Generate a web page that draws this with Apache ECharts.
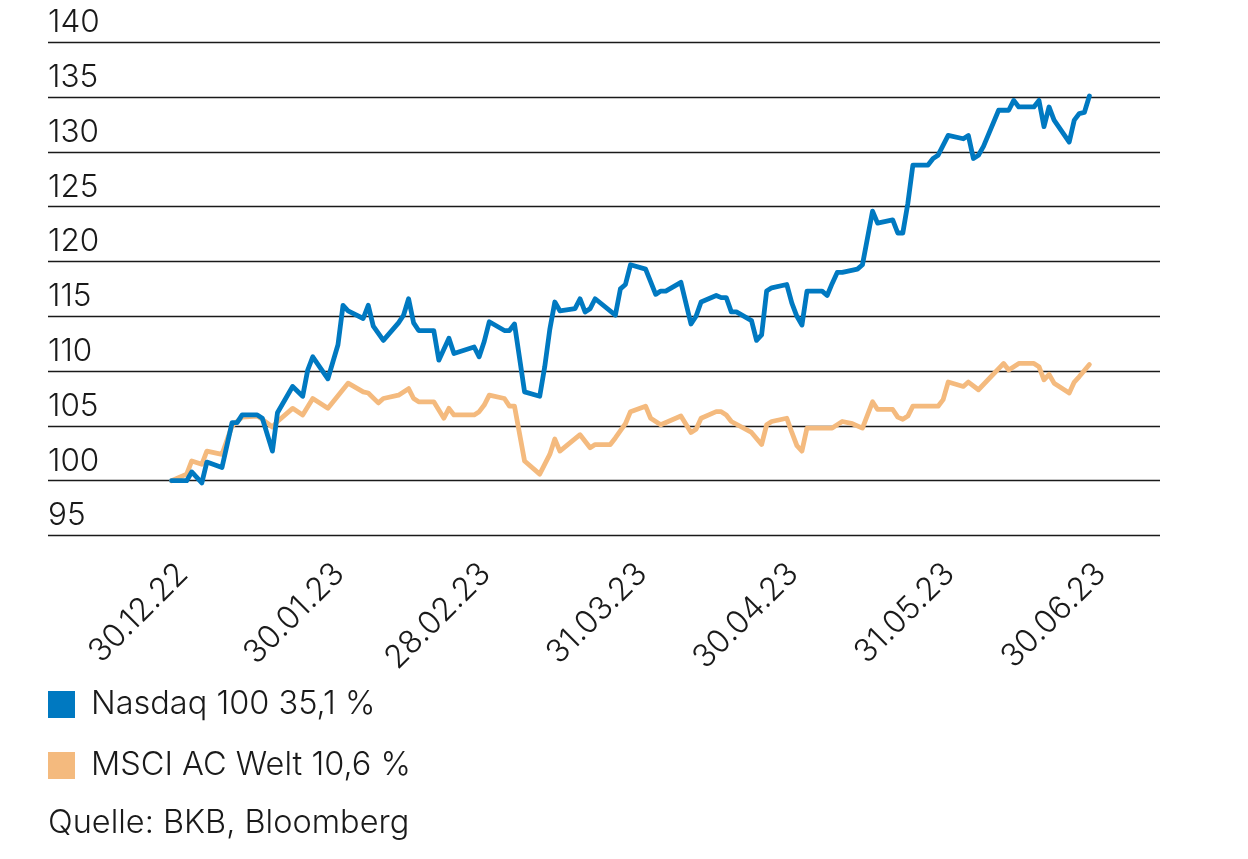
<!DOCTYPE html>
<html>
<head>
<meta charset="utf-8">
<script src="https://cdn.jsdelivr.net/npm/echarts@6/dist/echarts.min.js"></script>
<style>
html,body{margin:0;padding:0;background:#fff;}
#chart{width:1248px;height:859px;}
</style>
</head>
<body>
<div id="chart"></div>
<script>
// Tick positions (calendar days since 30.12.22) and labels
const tickDays = [0, 31, 60, 91, 121, 152, 182];
const tickLabels = ['30.12.22', '30.01.23', '28.02.23', '31.03.23', '30.04.23', '31.05.23', '30.06.23'];
const yTicks = [95, 100, 105, 110, 115, 120, 125, 130, 135, 140];

const seriesNames = ['Nasdaq 100 35,1 %', 'MSCI AC Welt 10,6 %'];

// Nasdaq 100 (indexed, 30.12.22 = 100)
const nasdaqDays = [0,3,4,6,7,10,12,13,14,17,18,20,21,24,26,27,28,31,33,34,35,38,39,40,42,45,46,47,48,49,52,53,55,56,60,61,62,63,66,67,68,70,73,74,75,76,77,80,81,82,83,84,88,89,90,91,94,96,97,98,101,103,104,105,108,109,110,111,112,115,116,117,118,119,122,123,124,125,126,129,130,131,132,133,136,137,139,140,143,144,145,146,147,150,151,152,154,157,158,159,160,161,164,166,167,168,171,172,173,174,175,178,179,180,181,182];
const nasdaqValues = [100.0,100.0,100.8,99.8,101.7,101.2,105.3,105.3,106.0,106.0,105.7,102.7,106.2,108.6,107.7,110.1,111.3,109.3,112.4,116.0,115.5,114.8,116.0,114.1,112.8,114.4,115.1,116.6,114.4,113.7,113.7,111.0,113.0,111.6,112.2,111.3,112.7,114.5,113.7,113.7,114.3,108.1,107.7,110.4,113.8,116.3,115.5,115.7,116.6,115.4,115.7,116.6,115.1,117.5,117.9,119.7,119.3,117.0,117.3,117.3,118.1,114.3,115.0,116.3,116.9,116.7,116.7,115.4,115.4,114.6,112.8,113.3,117.3,117.6,117.9,116.2,115.0,114.2,117.3,117.3,116.9,118.0,119.0,119.0,119.3,119.7,124.6,123.5,123.8,122.6,122.6,125.3,128.8,128.8,129.4,129.7,131.5,131.2,131.5,129.4,129.7,130.5,133.8,133.8,134.7,134.1,134.1,134.7,132.3,134.1,132.9,130.9,132.9,133.5,133.6,135.1];

// MSCI AC Welt (indexed, 30.12.22 = 100)
const msciDays = [0,3,4,6,7,10,12,14,17,18,20,21,24,26,28,31,35,38,39,41,42,45,47,48,49,52,54,55,56,60,61,62,63,66,67,68,70,73,75,76,77,81,83,84,87,88,90,91,94,95,97,101,103,104,105,108,109,110,111,115,117,118,119,122,123,124,125,126,131,133,135,137,139,140,143,144,145,146,147,152,153,154,157,158,160,165,166,168,171,172,173,174,175,178,179,180,182];
const msciValues = [100.0,100.6,101.8,101.5,102.7,102.4,105.0,105.8,105.9,105.6,104.9,105.4,106.6,106.0,107.5,106.6,108.9,108.1,108.0,107.1,107.5,107.8,108.4,107.5,107.2,107.2,105.7,106.6,106.0,106.0,106.3,106.9,107.8,107.5,106.8,106.8,101.8,100.6,102.4,103.8,102.7,104.2,103.0,103.3,103.3,103.9,105.2,106.3,106.8,105.7,105.1,105.9,104.4,104.7,105.7,106.3,106.3,106.0,105.4,104.4,103.3,105.1,105.4,105.7,104.4,103.2,102.7,104.8,104.8,105.4,105.2,104.8,107.2,106.5,106.5,105.8,105.6,105.9,106.8,106.8,107.4,109.0,108.6,109.0,108.3,110.7,110.1,110.7,110.7,110.4,109.2,109.7,108.9,108.0,109.0,109.5,110.6];

const FONT = 'Inter, "Liberation Sans", Arial, sans-serif';
const TEXT = '#1a1a1a';
const BLUE = '#0079C1';
const ORANGE = '#F4BA7E';

function pairs(days, vals) { return days.map((d, i) => [d, vals[i]]); }

const chart = echarts.init(document.getElementById('chart'), null, { renderer: 'canvas' });
chart.setOption({
  backgroundColor: '#ffffff',
  animation: false,
  title: {
    text: 'Quelle: BKB, Bloomberg',
    left: 48,
    top: 807,
    padding: 0,
    textStyle: { fontFamily: FONT, fontSize: 32.5, fontWeight: 300, color: TEXT }
  },
  legend: {
    data: seriesNames,
    orient: 'vertical',
    left: 48,
    top: 688,
    padding: 0,
    itemWidth: 27,
    itemHeight: 27,
    itemGap: 28,
    icon: 'rect',
    selectedMode: false,
    textStyle: { fontFamily: FONT, fontSize: 32.5, fontWeight: 300, color: TEXT, lineHeight: 27, padding: [0, 0, 0, 11] }
  },
  grid: { left: 48, right: 88, top: 42.3, bottom: 323.5, containLabel: false },
  xAxis: {
    type: 'value',
    min: -24.5,
    max: 196,
    axisLine: { show: false },
    axisTick: { show: false },
    splitLine: { show: false },
    axisLabel: {
      customValues: tickDays,
      rotate: 45,
      margin: 22,
      verticalAlign: 'top',
      fontFamily: FONT,
      fontSize: 32,
      fontWeight: 300,
      color: TEXT,
      formatter: function (v) {
        const i = tickDays.indexOf(v);
        return i >= 0 ? tickLabels[i] : '';
      }
    }
  },
  yAxis: {
    type: 'value',
    min: yTicks[0],
    max: yTicks[yTicks.length - 1],
    interval: 5,
    axisLine: { show: false },
    axisTick: { show: false },
    splitLine: { show: true, lineStyle: { color: '#1a1a1a', width: 1.3 } },
    axisLabel: {
      inside: true,
      margin: 0,
      align: 'left',
      verticalAlign: 'bottom',
      lineHeight: 31,
      padding: [0, 0, 4, 0],
      fontFamily: FONT,
      fontSize: 31.5,
      fontWeight: 300,
      color: TEXT
    }
  },
  series: [
    {
      name: seriesNames[1],
      type: 'line',
      data: pairs(msciDays, msciValues),
      showSymbol: false,
      symbol: 'none',
      color: ORANGE,
      lineStyle: { color: ORANGE, width: 4.8, join: 'round', cap: 'round' },
      z: 2
    },
    {
      name: seriesNames[0],
      type: 'line',
      data: pairs(nasdaqDays, nasdaqValues),
      showSymbol: false,
      symbol: 'none',
      color: BLUE,
      lineStyle: { color: BLUE, width: 4.8, join: 'round', cap: 'round' },
      z: 3
    }
  ]
});
</script>
</body>
</html>
